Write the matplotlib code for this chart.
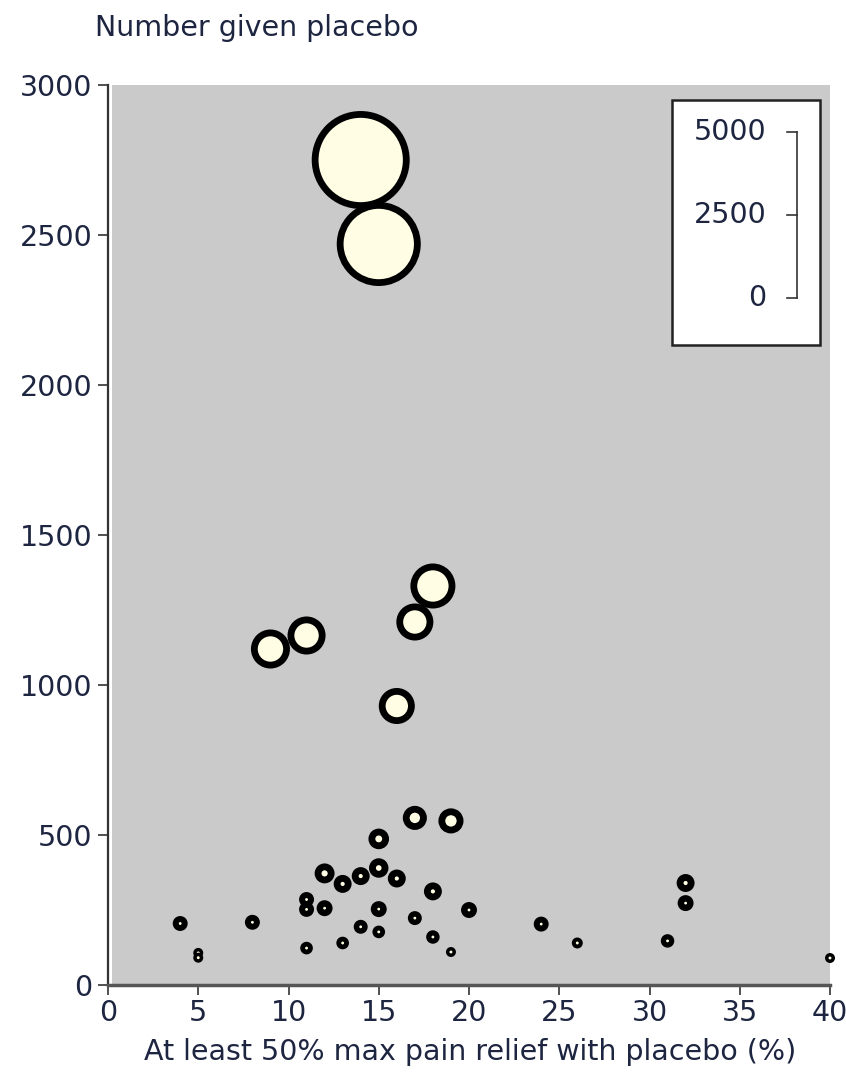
import matplotlib
matplotlib.use("Agg")
import matplotlib.pyplot as plt
from matplotlib.patches import Rectangle
import numpy as np

plt.rcParams['font.family'] = ['DejaVu Sans']

# Data: % with >=50% max pain relief on placebo, number given placebo, trial size (bubble scale)
pain_relief_pct = [14, 15, 18, 17, 11, 9, 16,
                   17, 19, 15, 12, 13, 14, 15, 16, 18,
                   11, 11, 12, 4, 8, 15, 17, 20, 24, 32, 32,
                   14, 13, 11, 15, 18, 19, 5, 5, 26, 31, 40]
number_placebo = [2750, 2470, 1330, 1210, 1165, 1120, 930,
                  557, 547, 487, 372, 337, 363, 390, 355, 312,
                  285, 252, 256, 205, 209, 253, 223, 250, 203, 340, 273,
                  194, 140, 123, 177, 160, 110, 107, 91, 140, 147, 90]
trial_size = [2950, 2530, 1355, 1115, 1145, 1175, 1085,
              725, 755, 620, 600, 540, 540, 585, 540, 540,
              450, 450, 480, 450, 450, 480, 420, 480, 450, 540, 480,
              420, 380, 380, 380, 405, 300, 300, 300, 330, 405, 300]

legend_values = [0, 2500, 5000]
x_ticks = [0, 5, 10, 15, 20, 25, 30, 35, 40]
y_ticks = [0, 500, 1000, 1500, 2000, 2500, 3000]

W, H = 846, 1074
DPI = 100
fig = plt.figure(figsize=(W / DPI, H / DPI), dpi=DPI)
fig.patch.set_facecolor('white')

ax_l, ax_r, ax_t, ax_b = 108, 830, 85, 985
ax = fig.add_axes([ax_l / W, 1 - ax_b / H, (ax_r - ax_l) / W, (ax_b - ax_t) / H])
ax.set_facecolor('none')
ax.add_patch(Rectangle((0.005, 0.0), 0.995, 1.0, transform=ax.transAxes,
                       facecolor='#cacaca', edgecolor='none', zorder=0))

ax.set_xlim(0, 40)
ax.set_ylim(0, 3000)

text_col = '#1d2540'
fs = 20.5

# bubbles: outer radius in px proportional to trial size
px_per_unit = 0.0166
R = np.array(trial_size) * px_per_unit
lw_px = np.clip(R - 1.5, 2.8, 6.8)
r_path = R - lw_px / 2
pt = 72.0 / DPI
sizes = (2 * r_path * pt) ** 2
order = np.argsort(-np.array(trial_size))
ax.scatter(np.array(pain_relief_pct)[order], np.array(number_placebo)[order],
           s=sizes[order], facecolor='#fffde3', edgecolor='black',
           linewidths=lw_px[order] * pt, zorder=3, clip_on=False)

# spines
for s in ['top', 'right']:
    ax.spines[s].set_visible(False)
ax.spines['left'].set_color('#333333')
ax.spines['left'].set_linewidth(1.6)
ax.spines['bottom'].set_color('#555555')
ax.spines['bottom'].set_linewidth(2.5)

ax.set_xticks(x_ticks)
ax.set_yticks(y_ticks)
ax.set_xticklabels([str(v) for v in x_ticks])
ax.set_yticklabels([str(v) for v in y_ticks])
ax.tick_params(axis='both', direction='out', length=7, width=1.2,
               colors='#333333', labelcolor=text_col, labelsize=fs)
ax.tick_params(axis='y', pad=4)
ax.tick_params(axis='x', pad=3)

# legend box (bubble scale)
ax.add_patch(Rectangle((0.781, 0.711), 0.205, 0.272, transform=ax.transAxes,
                       facecolor='white', edgecolor='#222222', linewidth=1.8, zorder=5))
y_top, y_bot = 0.948, 0.763
x_line = 0.954
ax.plot([x_line, x_line], [y_bot, y_top], transform=ax.transAxes,
        color='#333333', lw=1.2, zorder=6)
for v in legend_values:
    yy = y_bot + (y_top - y_bot) * v / max(legend_values)
    ax.plot([x_line - 0.013, x_line], [yy, yy], transform=ax.transAxes,
            color='#333333', lw=1.2, zorder=6)
    ax.text(0.912, yy, str(v), transform=ax.transAxes, ha='right', va='center',
            fontsize=fs, color=text_col, zorder=6)

fig.text(95 / W, 1 - 28 / H, 'Number given placebo', ha='left', va='center',
         fontsize=fs, color=text_col)
fig.text(470 / W, 1 - 1052 / H, 'At least 50% max pain relief with placebo (%)',
         ha='center', va='center', fontsize=fs, color=text_col)

fig.savefig('out.png', dpi=DPI, facecolor='white')
